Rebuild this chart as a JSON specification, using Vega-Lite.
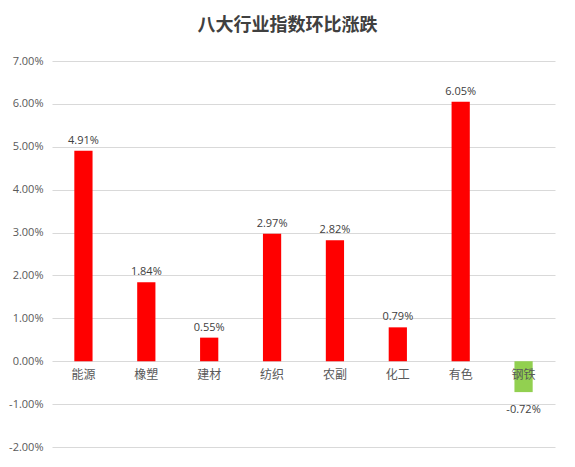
{
  "$schema": "https://vega.github.io/schema/vega-lite/v6.json",
  "autosize": "none",
  "width": 503,
  "height": 386,
  "padding": {"left": 52, "top": 61, "right": 20, "bottom": 20},
  "background": "white",
  "config": {
    "view": {"stroke": null},
    "font": "Noto Sans CJK SC",
    "locale": {"number": {"decimal": ".", "thousands": ",", "grouping": [3], "currency": ["$", ""], "minus": "-"}}
  },
  "title": {
    "text": "八大行业指数环比涨跌",
    "anchor": "middle",
    "frame": "group",
    "dx": -16,
    "offset": 20,
    "fontSize": 18,
    "fontWeight": "bold",
    "color": "#404040",
    "font": "Noto Sans CJK SC"
  },
  "data": {
    "values": [
      {"industry": "能源", "value": 0.0491},
      {"industry": "橡塑", "value": 0.0184},
      {"industry": "建材", "value": 0.0055},
      {"industry": "纺织", "value": 0.0297},
      {"industry": "农副", "value": 0.0282},
      {"industry": "化工", "value": 0.0079},
      {"industry": "有色", "value": 0.0605},
      {"industry": "钢铁", "value": -0.0072}
    ]
  },
  "encoding": {
    "x": {
      "field": "industry",
      "type": "nominal",
      "sort": null,
      "scale": {"paddingInner": 0.71, "paddingOuter": 0.355},
      "axis": {
        "title": null,
        "orient": "bottom",
        "offset": -86,
        "domain": false,
        "ticks": false,
        "labelAngle": 0,
        "labelPadding": 8,
        "labelFontSize": 12,
        "labelColor": "#595959",
        "zindex": 1
      }
    },
    "y": {
      "field": "value",
      "type": "quantitative",
      "scale": {"domain": [-0.02, 0.07], "nice": false},
      "axis": {
        "title": null,
        "format": ".2%",
        "values": [-0.02, -0.01, 0, 0.01, 0.02, 0.03, 0.04, 0.05, 0.06, 0.07],
        "labelOverlap": false,
        "domain": false,
        "ticks": false,
        "labelPadding": 9,
        "labelFontSize": 11,
        "labelFont": "Open Sans",
        "labelColor": "#595959",
        "gridColor": "#d9d9d9",
        "gridWidth": 1
      }
    }
  },
  "layer": [
    {
      "mark": {"type": "bar"},
      "encoding": {
        "color": {"condition": {"test": "datum.value < 0", "value": "#92D050"}, "value": "#FF0000"}
      }
    },
    {
      "transform": [{"filter": "datum.value >= 0"}],
      "mark": {"type": "text", "baseline": "bottom", "dy": -5, "fontSize": 11, "font": "Open Sans", "color": "#404040"},
      "encoding": {"text": {"field": "value", "type": "quantitative", "format": ".2%"}}
    },
    {
      "transform": [{"filter": "datum.value < 0"}],
      "mark": {"type": "text", "baseline": "top", "dy": 12, "fontSize": 11, "font": "Open Sans", "color": "#404040"},
      "encoding": {"text": {"field": "value", "type": "quantitative", "format": ".2%"}}
    }
  ]
}
